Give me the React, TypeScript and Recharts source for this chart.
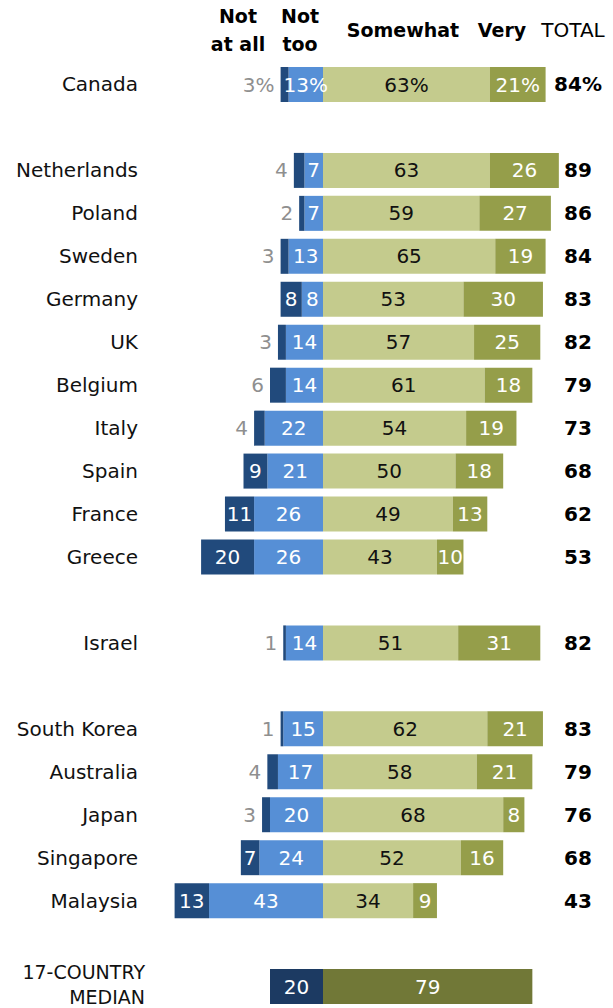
import { BarChart, Bar, XAxis, YAxis, LabelList } from "recharts";

// country rows, top to bottom
const countries = [
  "Canada", "Netherlands", "Poland", "Sweden", "Germany", "UK", "Belgium", "Italy",
  "Spain", "France", "Greece", "Israel", "South Korea", "Australia", "Japan",
  "Singapore", "Malaysia",
];
const notAtAll = [3, 4, 2, 3, 8, 3, 6, 4, 9, 11, 20, 1, 1, 4, 3, 7, 13];
const notToo = [13, 7, 7, 13, 8, 14, 14, 22, 21, 26, 26, 14, 15, 17, 20, 24, 43];
const somewhat = [63, 63, 59, 65, 53, 57, 61, 54, 50, 49, 43, 51, 62, 58, 68, 52, 34];
const very = [21, 26, 27, 19, 30, 25, 18, 19, 18, 13, 10, 31, 21, 21, 8, 16, 9];
const total = [84, 89, 86, 84, 83, 82, 79, 73, 68, 62, 53, 82, 83, 79, 76, 68, 43];

// empty row after these
const gapAfter = ["Canada", "Greece", "Israel", "Malaysia"];

const medianLabel = "17-COUNTRY MEDIAN";
const medianNot = 20;
const medianConfident = 79;

const FONT = "'DejaVu Sans', sans-serif";

const keys = ["notToo", "notAtAll", "medianNot", "somewhat", "very", "medianYes"];

const rows: any[] = [];
const addLabels = (r: any, pct: boolean) => {
  keys.forEach((k) => {
    const v = Math.abs(r[k] || 0);
    r["lbl_" + k] = v ? v + (pct ? "%" : "") : "";
  });
  return r;
};
countries.forEach((c, i) => {
  rows.push(
    addLabels(
      {
        name: c,
        notAtAll: -notAtAll[i],
        notToo: -notToo[i],
        somewhat: somewhat[i],
        very: very[i],
        medianNot: 0,
        medianYes: 0,
        total: total[i],
      },
      i === 0
    )
  );
  if (gapAfter.includes(c)) {
    rows.push(addLabels({ name: "_gap" + i, notAtAll: 0, notToo: 0, somewhat: 0, very: 0, medianNot: 0, medianYes: 0 }, false));
  }
});
rows.push(
  addLabels(
    {
      name: medianLabel,
      notAtAll: 0,
      notToo: 0,
      somewhat: 0,
      very: 0,
      medianNot: -medianNot,
      medianYes: medianConfident,
    },
    false
  )
);

const makeLabel = (color: string, outsideSmall = false) => (props: any) => {
  const { x, y, width, height, value } = props;
  const txt = String(value ?? "");
  if (!txt) return null;
  const v = parseFloat(txt);
  const left = Math.min(x, x + width);
  const w = Math.abs(width);
  const cy = y + height / 2;
  if (outsideSmall && v < 7) {
    return (
      <text x={left - 6} y={cy} dy="0.35em" textAnchor="end" fill="#8f8f8f" fontSize={20} fontFamily={FONT}>
        {txt}
      </text>
    );
  }
  return (
    <text x={left + w / 2} y={cy} dy="0.35em" textAnchor="middle" fill={color} fontSize={20} fontFamily={FONT}>
      {txt}
    </text>
  );
};

const CountryTick = (props: any) => {
  const { y, payload } = props;
  const name: string = payload.value;
  if (name.startsWith("_gap")) return null;
  if (name === medianLabel) {
    return (
      <text x={145} y={y} textAnchor="end" fill="#111" fontSize={19} fontFamily={FONT}>
        <tspan x={145} dy={-8}>17-COUNTRY</tspan>
        <tspan x={145} dy={25}>MEDIAN</tspan>
      </text>
    );
  }
  return (
    <text x={138} y={y} dy="0.35em" textAnchor="end" fill="#111" fontSize={20} fontFamily={FONT}>
      {name}
    </text>
  );
};

const TotalTick = (props: any) => {
  const { y, payload } = props;
  const row = rows.find((r) => r.name === payload.value);
  if (!row || row.total == null) return null;
  return (
    <text x={578} y={y} dy="0.35em" textAnchor="middle" fill="#000" fontSize={20} fontWeight="bold" fontFamily={FONT}>
      {row.total + (row.name === "Canada" ? "%" : "")}
    </text>
  );
};

const headStyle: any = {
  position: "absolute",
  fontFamily: FONT,
  fontSize: 19,
  lineHeight: "28px",
  textAlign: "center",
  color: "#000",
  transform: "translateX(-50%)",
  whiteSpace: "nowrap",
};

export default function App() {
  return (
    <div style={{ position: "absolute", left: 0, top: 0, width: 613, height: 1008, background: "#fff" }}>
      <div style={{ ...headStyle, left: 238, top: 2, fontWeight: "bold" }}>Not<br />at all</div>
      <div style={{ ...headStyle, left: 300, top: 2, fontWeight: "bold" }}>Not<br />too</div>
      <div style={{ ...headStyle, left: 403, top: 16, fontWeight: "bold" }}>Somewhat</div>
      <div style={{ ...headStyle, left: 502, top: 16, fontWeight: "bold" }}>Very</div>
      <div style={{ ...headStyle, left: 573, top: 16, fontSize: 20 }}>TOTAL</div>
      <BarChart
        width={613}
        height={1008}
        data={rows}
        layout="vertical"
        stackOffset="sign"
        barSize={35}
        margin={{ top: 63, right: 0, bottom: 0, left: 0 }}
      >
        <XAxis type="number" domain={[-60, 100]} hide />
        <YAxis type="category" dataKey="name" width={164} interval={0} tickLine={false} axisLine={false} tick={<CountryTick />} />
        <YAxis yAxisId="r" orientation="right" type="category" dataKey="name" width={25} interval={0} tickLine={false} axisLine={false} tick={<TotalTick />} />
        <Bar dataKey="notToo" stackId="a" fill="#568fd6" isAnimationActive={false}>
          <LabelList dataKey="lbl_notToo" content={makeLabel("#fff")} />
        </Bar>
        <Bar dataKey="notAtAll" stackId="a" fill="#214a7c" isAnimationActive={false}>
          <LabelList dataKey="lbl_notAtAll" content={makeLabel("#fff", true)} />
        </Bar>
        <Bar dataKey="medianNot" stackId="a" fill="#1c3a62" isAnimationActive={false}>
          <LabelList dataKey="lbl_medianNot" content={makeLabel("#fff")} />
        </Bar>
        <Bar dataKey="somewhat" stackId="a" fill="#c4cb8d" isAnimationActive={false}>
          <LabelList dataKey="lbl_somewhat" content={makeLabel("#111")} />
        </Bar>
        <Bar dataKey="very" stackId="a" fill="#959e4a" isAnimationActive={false}>
          <LabelList dataKey="lbl_very" content={makeLabel("#fff")} />
        </Bar>
        <Bar dataKey="medianYes" stackId="a" fill="#717837" isAnimationActive={false}>
          <LabelList dataKey="lbl_medianYes" content={makeLabel("#fff")} />
        </Bar>
      </BarChart>
    </div>
  );
}
